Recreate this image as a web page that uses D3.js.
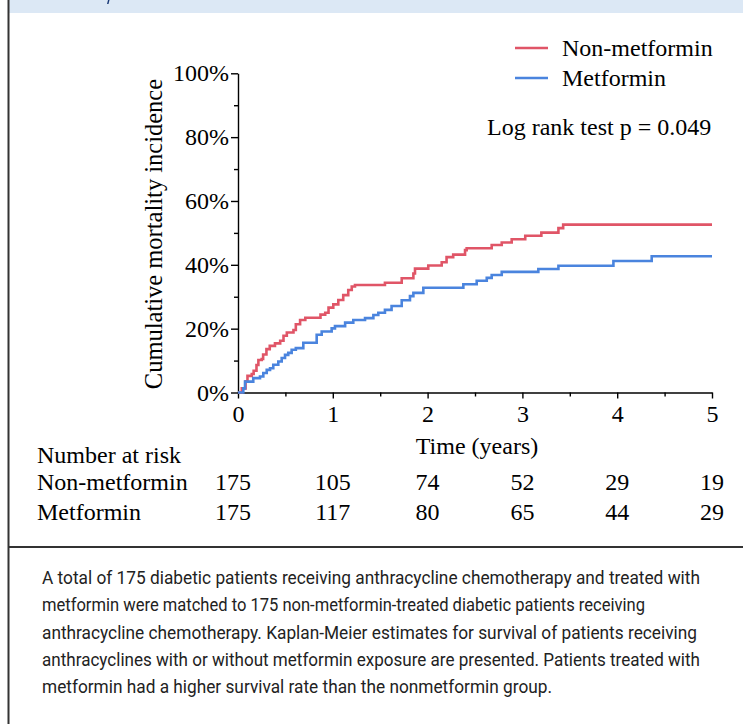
<!DOCTYPE html>
<html>
<head>
<meta charset="utf-8">
<script src="https://cdn.jsdelivr.net/npm/d3@7"></script>
<style>
  html, body { margin: 0; padding: 0; background: #fff; }
  svg { display: block; }
</style>
</head>
<body>
<svg id="chart" width="743" height="724"></svg>
<script>
// ---------- data ----------
const seriesNames = ["Non-metformin", "Metformin"];
const nonMetforminTimes = [0, 0.04, 0.08, 0.10, 0.145, 0.165, 0.195, 0.215, 0.25, 0.265, 0.30, 0.335, 0.39, 0.445, 0.48, 0.515, 0.585, 0.61, 0.655, 0.71, 0.87, 0.92, 0.955, 1.005, 1.058, 1.11, 1.163, 1.20, 1.234, 1.55, 1.727, 1.85, 1.867, 2.007, 2.149, 2.20, 2.27, 2.395, 2.412, 2.676, 2.782, 2.887, 3.03, 3.20, 3.38, 3.43, 5.0];
const nonMetforminValues = [0, 1.3, 3.5, 5.2, 5.8, 6.8, 8.6, 10.2, 10.5, 11.9, 13.6, 14.6, 15.4, 16.2, 17.8, 18.8, 19.6, 21.4, 22.7, 23.4, 24.4, 25.0, 26.6, 27.6, 29.0, 30.5, 32.1, 33.2, 33.7, 34.4, 35.8, 37.3, 38.8, 39.8, 40.8, 42.4, 43.2, 44.6, 45.2, 46.2, 47.0, 48.0, 49.1, 50.1, 51.5, 52.6, 52.6];
const metforminTimes = [0, 0.056, 0.074, 0.161, 0.232, 0.267, 0.303, 0.338, 0.372, 0.425, 0.461, 0.496, 0.53, 0.566, 0.61, 0.689, 0.83, 0.883, 0.988, 1.023, 1.13, 1.216, 1.34, 1.428, 1.48, 1.55, 1.62, 1.727, 1.814, 1.85, 1.955, 2.377, 2.518, 2.624, 2.676, 2.782, 3.168, 3.38, 3.96, 4.364, 5.0];
const metforminValues = [0, 1.3, 3.4, 4.5, 5.0, 6.1, 7.1, 7.6, 8.7, 9.7, 10.8, 11.8, 12.4, 13.4, 13.9, 15.6, 18.1, 19.1, 20.1, 20.8, 21.9, 22.7, 23.3, 24.3, 25.0, 25.9, 27.1, 28.9, 30.2, 31.2, 32.8, 33.9, 35.0, 35.9, 36.8, 37.8, 38.7, 39.7, 41.2, 42.7, 42.7];
const xTickValues = [0, 1, 2, 3, 4, 5];
const xMinorTickValues = [0.5, 1.5, 2.5, 3.5, 4.5];
const yTickValues = [0, 20, 40, 60, 80, 100];
const yMinorTickValues = [10, 30, 50, 70, 90];
const atRiskNonMetformin = [175, 105, 74, 52, 29, 19];
const atRiskMetformin = [175, 117, 80, 65, 44, 29];
const pValueText = "Log rank test p = 0.049";
const captionLines = [
  "A total of 175 diabetic patients receiving anthracycline chemotherapy and treated with",
  "metformin were matched to 175 non-metformin-treated diabetic patients receiving",
  "anthracycline chemotherapy. Kaplan-Meier estimates for survival of patients receiving",
  "anthracyclines with or without metformin exposure are presented. Patients treated with",
  "metformin had a higher survival rate than the nonmetformin group."
];
const captionWidths = [658, 603, 655, 658, 510];

// ---------- drawing ----------
const svg = d3.select("#chart");
const serif = "'Liberation Serif', 'Times New Roman', serif";
const colors = ["#e05567", "#4a84de"];

// frame
svg.append("rect").attr("x", 9).attr("y", 0).attr("width", 734).attr("height", 13).attr("fill", "#dce8f5");
svg.append("path").attr("d", "M108,0 L109.5,0 L108.5,4 L107,4 Z").attr("fill", "#1b3a78");
svg.append("line").attr("x1", 8.5).attr("x2", 8.5).attr("y1", 0).attr("y2", 724)
  .attr("stroke", "#333").attr("stroke-width", 2);
svg.append("line").attr("x1", 8).attr("x2", 743).attr("y1", 547).attr("y2", 547)
  .attr("stroke", "#333").attr("stroke-width", 2);

const x = d3.scaleLinear().domain([0, 5]).range([238, 712]);
const y = d3.scaleLinear().domain([0, 100]).range([392.5, 73.3]);

// axes
svg.append("g").attr("transform", `translate(${x(0)},0)`)
  .call(d3.axisLeft(y).tickValues(yTickValues).tickFormat(d => d + "%").tickSize(7).tickPadding(2).tickSizeOuter(0));
svg.append("g").attr("transform", `translate(${x(0)},0)`)
  .call(d3.axisLeft(y).tickValues(yMinorTickValues).tickFormat("").tickSize(4).tickSizeOuter(0))
  .select(".domain").remove();
svg.append("g").attr("transform", `translate(0,${y(0)})`)
  .call(d3.axisBottom(x).tickValues(xTickValues).tickFormat(d3.format("d")).tickSize(6).tickPadding(6).tickSizeOuter(0));
svg.append("g").attr("transform", `translate(0,${y(0)})`)
  .call(d3.axisBottom(x).tickValues(xMinorTickValues).tickFormat("").tickSize(4).tickSizeOuter(0))
  .select(".domain").remove();
svg.selectAll(".domain, .tick line").attr("stroke", "#000").attr("stroke-width", 1.4);
svg.selectAll(".tick text").attr("font-family", serif).attr("font-size", 24).attr("fill", "#000");

// axis titles
svg.append("text").attr("transform", "translate(162,234) rotate(-90)").attr("text-anchor", "middle")
  .attr("font-family", serif).attr("font-size", 24.5).text("Cumulative mortality incidence");
svg.append("text").attr("x", 477).attr("y", 454).attr("text-anchor", "middle")
  .attr("font-family", serif).attr("font-size", 24).text("Time (years)");

// curves
const line = d3.line().x(d => x(d[0])).y(d => y(d[1])).curve(d3.curveStepAfter);
const seriesData = [
  d3.zip(nonMetforminTimes, nonMetforminValues),
  d3.zip(metforminTimes, metforminValues)
];
seriesData.forEach((s, i) => {
  svg.append("path").datum(s).attr("d", line).attr("fill", "none")
    .attr("stroke", colors[i]).attr("stroke-width", 2.6);
});

// legend
const legendY = [48, 78];
seriesNames.forEach((n, i) => {
  svg.append("line").attr("x1", 515).attr("x2", 548).attr("y1", legendY[i]).attr("y2", legendY[i])
    .attr("stroke", colors[i]).attr("stroke-width", 2.6);
  svg.append("text").attr("x", 562).attr("y", legendY[i] + 8).attr("font-family", serif)
    .attr("font-size", 24).text(n);
});
svg.append("text").attr("x", 487).attr("y", 135).attr("font-family", serif)
  .attr("font-size", 24).text(pValueText);

// number at risk
svg.append("text").attr("x", 37).attr("y", 463).attr("font-family", serif).attr("font-size", 24).text("Number at risk");
const riskRows = [atRiskNonMetformin, atRiskMetformin];
const rowY = [490, 520];
riskRows.forEach((row, i) => {
  svg.append("text").attr("x", 37).attr("y", rowY[i]).attr("font-family", serif).attr("font-size", 24).text(seriesNames[i]);
  svg.append("g").selectAll("text").data(row).join("text")
    .attr("x", (d, j) => x(xTickValues[j]) - (j === 0 ? 5 : 0))
    .attr("y", rowY[i]).attr("text-anchor", "middle")
    .attr("font-family", serif).attr("font-size", 24).text(d => d);
});

// caption
const capBase = [584, 611, 639, 666, 693];
captionLines.forEach((t, i) => {
  svg.append("text").attr("x", 42).attr("y", capBase[i])
    .attr("font-family", "Roboto, 'Open Sans', sans-serif").attr("font-size", 17.5)
    .attr("fill", "#222").attr("textLength", captionWidths[i]).attr("lengthAdjust", "spacingAndGlyphs")
    .text(t);
});
</script>
</body>
</html>
